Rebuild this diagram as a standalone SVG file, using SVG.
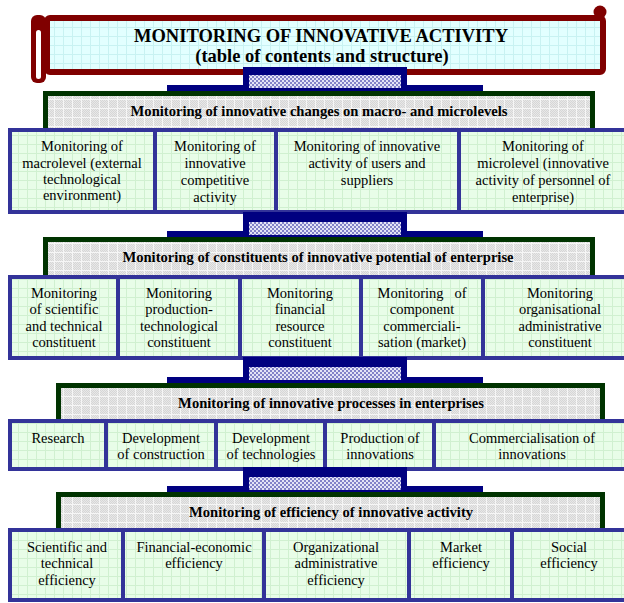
<svg xmlns="http://www.w3.org/2000/svg" width="624" height="603" viewBox="0 0 624 603">
<defs>
  <pattern id="cyanGrid" width="9" height="9" patternUnits="userSpaceOnUse">
    <rect width="9" height="9" fill="#e2ffff"/>
    <path d="M0 0.5H9M0.5 0V9" stroke="#c8f2f2" stroke-width="1"/>
  </pattern>
  <pattern id="greyFine" width="2" height="2" patternUnits="userSpaceOnUse">
    <rect width="2" height="2" fill="#e8e8e8"/>
    <rect width="1" height="1" fill="#d6d6d6"/>
    <rect x="1" y="1" width="1" height="1" fill="#d6d6d6"/>
  </pattern>
  <pattern id="greyGrid" width="9" height="9" patternUnits="userSpaceOnUse">
    <rect width="9" height="9" fill="url(#greyFine)"/>
    <path d="M0 0.5H9M0.5 0V9" stroke="#f6f6f6" stroke-width="1"/>
  </pattern>
  <pattern id="greenGrid" width="9" height="9" patternUnits="userSpaceOnUse">
    <rect width="9" height="9" fill="#e8fde8"/>
    <path d="M0 0.5H9M0.5 0V9" stroke="#d0f0d0" stroke-width="1"/>
  </pattern>
  <pattern id="blueCheck" width="4" height="4" patternUnits="userSpaceOnUse">
    <rect width="4" height="4" fill="#e4e4f6"/>
    <rect width="2" height="2" fill="#8282c8"/>
    <rect x="2" y="2" width="2" height="2" fill="#8282c8"/>
  </pattern>
  <style>
    .cell { fill: url(#greenGrid); stroke: #333399; stroke-width: 4; }
    .hdr { fill: url(#greyGrid); stroke: #003300; stroke-width: 5; }
    text { font-family: 'Liberation Serif', 'Times New Roman', Tinos, 'DejaVu Serif', serif; fill: #000; text-anchor: middle; }
    .ct { font-size: 14.5px; }
    .ht { font-size: 14.6px; font-weight: bold; }
    .tt { font-size: 18.5px; font-weight: bold; }
    .conn { fill: #000080; }
    .chk { fill: url(#blueCheck); }
  </style>
</defs>

<g id="title">
  <rect x="31" y="15" width="15" height="68" rx="6" fill="#800000"/>
  <rect x="36" y="30" width="5" height="49" rx="2.5" fill="#ffffff"/>
  <rect x="47" y="18" width="556" height="54" rx="3" fill="url(#cyanGrid)" stroke="#800000" stroke-width="6"/>
  <circle cx="600" cy="12" r="6.5" fill="#800000"/>
  <text class="tt" x="321" y="42">MONITORING OF INNOVATIVE ACTIVITY</text>
  <text class="tt" x="322" y="62">(table of contents and structure)</text>
</g>

<g id="level1">
  <rect class="hdr" x="45.5" y="93.5" width="547" height="40"/>
  <text class="ht" x="319" y="116">Monitoring of innovative changes on macro- and microlevels</text>
</g>
<g id="l1-macrolevel">
  <rect class="cell" x="10" y="130" width="145" height="82"/>
  <text class="ct" x="82" y="151">Monitoring of</text>
  <text class="ct" x="82" y="168">macrolevel (external</text>
  <text class="ct" x="82" y="184">technological</text>
  <text class="ct" x="82" y="200">environment)</text>
</g>
<g id="l1-competitive">
  <rect class="cell" x="155" y="130" width="121" height="82"/>
  <text class="ct" x="215" y="151">Monitoring of</text>
  <text class="ct" x="215" y="168">innovative</text>
  <text class="ct" x="215" y="185">competitive</text>
  <text class="ct" x="215" y="202">activity</text>
</g>
<g id="l1-users">
  <rect class="cell" x="276" y="130" width="183" height="82"/>
  <text class="ct" x="367" y="151">Monitoring of innovative</text>
  <text class="ct" x="367" y="168">activity of users and</text>
  <text class="ct" x="367" y="185">suppliers</text>
</g>
<g id="l1-microlevel">
  <rect class="cell" x="459" y="130" width="175" height="82"/>
  <text class="ct" x="543" y="151">Monitoring of</text>
  <text class="ct" x="543" y="168">microlevel (innovative</text>
  <text class="ct" x="543" y="185">activity of personnel of</text>
  <text class="ct" x="543" y="202">enterprise)</text>
</g>

<g id="level2">
  <rect class="hdr" x="45.5" y="239.5" width="547" height="40"/>
  <text class="ht" x="318" y="262">Monitoring of constituents of innovative potential of enterprise</text>
</g>
<g id="l2-scientific">
  <rect class="cell" x="10" y="277" width="108" height="81"/>
  <text class="ct" x="64" y="298">Monitoring</text>
  <text class="ct" x="64" y="314">of scientific</text>
  <text class="ct" x="64" y="331">and technical</text>
  <text class="ct" x="64" y="347">constituent</text>
</g>
<g id="l2-production">
  <rect class="cell" x="118" y="277" width="122" height="81"/>
  <text class="ct" x="179" y="298">Monitoring</text>
  <text class="ct" x="179" y="314">production-</text>
  <text class="ct" x="179" y="331">technological</text>
  <text class="ct" x="179" y="347">constituent</text>
</g>
<g id="l2-financial">
  <rect class="cell" x="240" y="277" width="121" height="81"/>
  <text class="ct" x="300" y="298">Monitoring</text>
  <text class="ct" x="300" y="314">financial</text>
  <text class="ct" x="300" y="331">resource</text>
  <text class="ct" x="300" y="347">constituent</text>
</g>
<g id="l2-commercial">
  <rect class="cell" x="361" y="277" width="122" height="81"/>
  <text class="ct" x="422" y="298" xml:space="preserve">Monitoring   of</text>
  <text class="ct" x="422" y="314">component</text>
  <text class="ct" x="422" y="331">commerciali-</text>
  <text class="ct" x="422" y="347">sation (market)</text>
</g>
<g id="l2-organisational">
  <rect class="cell" x="483" y="277" width="151" height="81"/>
  <text class="ct" x="560" y="298">Monitoring</text>
  <text class="ct" x="560" y="314">organisational</text>
  <text class="ct" x="560" y="331">administrative</text>
  <text class="ct" x="560" y="347">constituent</text>
</g>

<g id="level3">
  <rect class="hdr" x="58.5" y="385.5" width="544" height="40"/>
  <text class="ht" x="331" y="408">Monitoring of innovative processes in enterprises</text>
</g>
<g id="l3-research">
  <rect class="cell" x="10" y="421" width="96" height="48"/>
  <text class="ct" x="58" y="443">Research</text>
</g>
<g id="l3-construction">
  <rect class="cell" x="106" y="421" width="110" height="48"/>
  <text class="ct" x="161" y="443">Development</text>
  <text class="ct" x="161" y="459">of construction</text>
</g>
<g id="l3-technologies">
  <rect class="cell" x="216" y="421" width="109" height="48"/>
  <text class="ct" x="271" y="443">Development</text>
  <text class="ct" x="271" y="459">of technologies</text>
</g>
<g id="l3-production">
  <rect class="cell" x="325" y="421" width="109" height="48"/>
  <text class="ct" x="380" y="443">Production of</text>
  <text class="ct" x="380" y="459">innovations</text>
</g>
<g id="l3-commercialisation">
  <rect class="cell" x="434" y="421" width="200" height="48"/>
  <text class="ct" x="532" y="443">Commercialisation of</text>
  <text class="ct" x="532" y="459">innovations</text>
</g>

<g id="level4">
  <rect class="hdr" x="58.5" y="494.5" width="544" height="40"/>
  <text class="ht" x="331" y="517">Monitoring of efficiency of innovative activity</text>
</g>
<g id="l4-scientific">
  <rect class="cell" x="10" y="530" width="113" height="70"/>
  <text class="ct" x="67" y="552">Scientific and</text>
  <text class="ct" x="67" y="568">technical</text>
  <text class="ct" x="67" y="585">efficiency</text>
</g>
<g id="l4-financial">
  <rect class="cell" x="123" y="530" width="141" height="70"/>
  <text class="ct" x="194" y="552">Financial-economic</text>
  <text class="ct" x="194" y="568">efficiency</text>
</g>
<g id="l4-organizational">
  <rect class="cell" x="264" y="530" width="145" height="70"/>
  <text class="ct" x="336" y="552">Organizational</text>
  <text class="ct" x="336" y="568">administrative</text>
  <text class="ct" x="336" y="585">efficiency</text>
</g>
<g id="l4-market">
  <rect class="cell" x="409" y="530" width="103" height="70"/>
  <text class="ct" x="461" y="552">Market</text>
  <text class="ct" x="461" y="568">efficiency</text>
</g>
<g id="l4-social">
  <rect class="cell" x="512" y="530" width="122" height="70"/>
  <text class="ct" x="569" y="552">Social</text>
  <text class="ct" x="569" y="568">efficiency</text>
</g>

<g id="connectors">
  <path class="conn" d="M243 67H407V85H483V91H167V85H243Z"/>
  <rect class="chk" x="249" y="75" width="152" height="13"/>
  <path class="conn" d="M243 212H407V231H483V237H167V231H243Z"/>
  <rect class="chk" x="249" y="222" width="152" height="13"/>
  <path class="conn" d="M243 357H407V377H483V383H167V377H243Z"/>
  <rect class="chk" x="249" y="367" width="152" height="13"/>
  <path class="conn" d="M243 467H407V486H483V492H167V486H243Z"/>
  <rect class="chk" x="249" y="477" width="152" height="13"/>
</g>
</svg>
